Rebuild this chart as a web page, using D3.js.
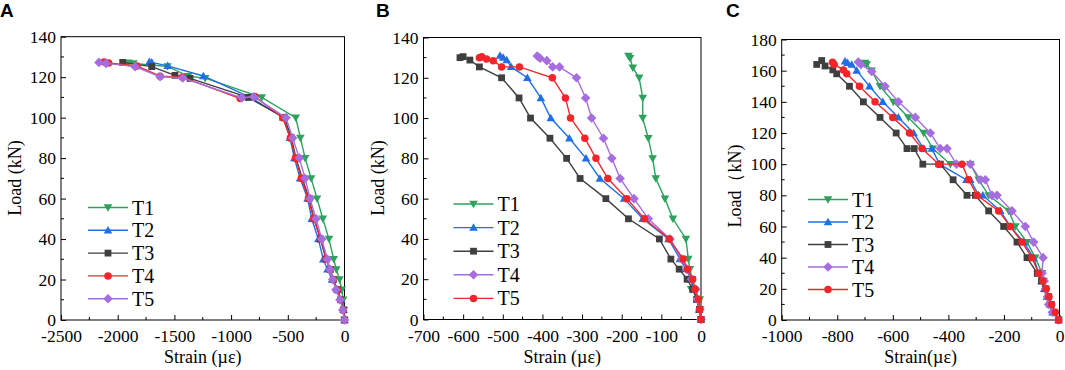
<!DOCTYPE html>
<html><head><meta charset="utf-8">
<script src="https://cdn.jsdelivr.net/npm/d3@7"></script>
<style>
body{margin:0;background:#fff}svg{display:block}
.serif{font-family:"Liberation Serif","Times New Roman",Times,serif}
.sans{font-family:"Liberation Sans",Arial,Helvetica,sans-serif}
</style>
</head><body>
<svg id="chart" width="1065" height="370"></svg>
<script>
// ---------- DATA: [strain (µε), load (kN)] ----------
const seriesNames = ["T1", "T2", "T3", "T4", "T5"];

// Panel A
const A_T1 = [[0,0],[-5,5],[-12,10],[-24,15],[-44,20],[-72,25],[-95,30],[-137,40],[-191,50],[-242,60],[-294,70],[-347,80],[-389,90],[-430,100],[-730,110],[-1229,119.5],[-1380,120.5],[-1560,125.3],[-1862,126.8],[-1906,127.1]];
const A_T2 = [[0,0],[-8,5],[-28,10],[-65,15],[-110,20],[-150,25],[-187,30],[-231,40],[-289,50],[-325,60],[-392,70],[-442,80],[-481,90],[-539,100],[-830,110],[-1245,120.6],[-1559,125.6],[-1700,127.3],[-1721,127.6]];
const A_T3 = [[0,0],[-10,5],[-35,10],[-62,15],[-98,20],[-125,25],[-163,30],[-212,40],[-268,50],[-312,60],[-372,70],[-428,80],[-468,90],[-530,100],[-850,110],[-1362,119.4],[-1495,120.9],[-1700,125.2],[-1956,127.3]];
const A_T4 = [[0,0],[-10,5],[-35,10],[-62,15],[-100,20],[-125,25],[-160,30],[-208,40],[-272,50],[-318,60],[-380,70],[-432,80],[-478,90],[-545,100],[-790,110.5],[-920,109.5],[-1430,120],[-1626,120.5],[-1830,125.5],[-2080,127],[-2120,127.5]];
const A_T5 = [[0,0],[-15,5],[-40,10],[-75,15],[-104,20],[-128,25],[-151,30],[-201,40],[-251,50],[-304,60],[-348,70],[-398,80],[-457,90],[-516,100],[-800,110.3],[-906,109.8],[-1426,119.6],[-1626,120.2],[-1847,125.2],[-2103,126.8],[-2165,127.3]];

// Panel B
const B_T1 = [[0,0],[-2,5],[-3,10],[-25,15],[-22,20],[-28,25],[-32,30],[-38,40],[-71,50],[-91,60],[-114,70],[-122,80],[-133,90],[-147,100],[-147,110],[-156,120],[-172,125],[-179,129.7],[-183,130.8]];
const B_T2 = [[0,0],[-5,5],[-10,10],[-18,15],[-25,20],[-38,25],[-53,30],[-82,40],[-147,50],[-194,60],[-255,70],[-290,80],[-332,90],[-379,100],[-404,110],[-438,120],[-479,125.4],[-490,128.8],[-499,130],[-507,131]];
const B_T3 = [[0,0],[-4,5],[-11,10],[-21,15],[-35,20],[-55,25],[-76,30],[-105,40],[-183,50],[-240,60],[-305,70],[-339,80],[-381,90],[-430,100],[-459,110],[-503,120],[-559,125.4],[-583,128.8],[-600,130.5],[-608,130]];
const B_T4 = [[0,0],[-3,5],[-9,10],[-13,15],[-24,20],[-36,25],[-49,30],[-78,40],[-133,50],[-169,60],[-204,70],[-225,80],[-246,90],[-276,100],[-291,110],[-314,120],[-357,125.4],[-374,125.4],[-389,128.5],[-406,129.7],[-413,130.8]];
const B_T5 = [[0,0],[-3,5],[-6,10],[-15,15],[-21,20],[-34,25],[-45,30],[-80,40],[-143,50],[-187,60],[-235,70],[-265,80],[-293,90],[-329,100],[-342,110],[-375,120],[-458,125.4],[-503,125.4],[-524,128.5],[-541,129.3],[-553,130.5],[-559,130]];

// Panel C
const C_T1 = [[-3,0],[-20,5],[-33,10],[-40,15],[-50,20],[-57,25],[-63,30],[-87,40],[-117,50],[-159,60],[-183,70],[-255,80],[-291,90],[-321,100],[-393,100],[-456,110],[-489,120],[-544,130],[-598,140],[-646,150],[-676,160],[-694,164],[-700,165]];
const C_T2 = [[-3,0],[-25,5],[-35,10],[-45,15],[-55,20],[-65,25],[-75,30],[-93,40],[-129,50],[-177,60],[-213,70],[-276,80],[-291,80],[-321,90],[-335,90],[-432,100],[-459,110],[-489,110],[-525,120],[-580,130],[-636,140],[-684,150],[-730,160],[-748,164],[-763,165],[-772,166]];
const C_T3 = [[-3,0],[-20,5],[-30,10],[-40,15],[-50,20],[-65,25],[-80,30],[-117,40],[-153,50],[-201,60],[-255,70],[-303,80],[-333,80],[-383,90],[-429,100],[-492,100],[-523,110],[-549,110],[-588,120],[-646,130],[-706,140],[-756,150],[-802,158],[-816,160.5],[-844,163],[-856,166.5],[-874,164]];
const C_T4 = [[-5,0],[-26,5],[-39,10],[-43,15],[-50,20],[-55,25],[-63,30],[-59,40],[-93,50],[-123,60],[-171,70],[-225,80],[-243,80],[-267,90],[-285,90],[-321,100],[-371,100],[-405,110],[-429,110],[-465,120],[-519,130],[-580,140],[-628,150],[-676,159.5],[-715,164],[-724,165.5]];
const C_T5 = [[-3,0],[-15,5],[-28,10],[-38,15],[-48,20],[-60,25],[-75,30],[-99,40],[-135,50],[-177,60],[-219,70],[-297,80],[-327,90],[-351,100],[-435,100],[-495,110],[-540,120],[-600,130],[-664,140],[-720,150],[-766,158],[-778,160.5],[-811,164],[-817,165.4]];

// Tick labels
const A_xTicks = [-2500, -2000, -1500, -1000, -500, 0];
const A_yTicks = [0, 20, 40, 60, 80, 100, 120, 140];
const B_xTicks = [-700, -600, -500, -400, -300, -200, -100, 0];
const B_yTicks = [0, 20, 40, 60, 80, 100, 120, 140];
const C_xTicks = [-1000, -800, -600, -400, -200, 0];
const C_yTicks = [0, 20, 40, 60, 80, 100, 120, 140, 160, 180];

// ---------- STYLE ----------
const COL = {green:"#2ca25c", blue:"#1f6fe5", black:"#3f3f3f", red:"#f0262b", purple:"#a66ddf"};
const styleA = [["green","down"],["blue","up"],["black","square"],["red","circle"],["purple","diamond"]];
const styleBC = [["green","down"],["blue","up"],["black","square"],["purple","diamond"],["red","circle"]];

const panels = [
  {letter:"A", lx:0, box:{l:61,r:344.5,t:36.7,b:320}, xDom:[-2500,0], yDom:[0,140],
   xTicks:A_xTicks, xMinor:250, yTicks:A_yTicks, yMinor:10,
   series:[A_T1,A_T2,A_T3,A_T4,A_T5], styles:styleA,
   xTitle:"Strain (µε)", yTitle:"Load (kN)", yTitleX:21, yTitleY:178,
   leg:{x:88, y:207.5, dy:22.8}},
  {letter:"B", lx:376, box:{l:423.5,r:701,t:37.5,b:319.5}, xDom:[-700,0], yDom:[0,140],
   xTicks:B_xTicks, xMinor:50, yTicks:B_yTicks, yMinor:10,
   series:[B_T1,B_T2,B_T3,B_T4,B_T5], styles:styleBC,
   xTitle:"Strain (µε)", yTitle:"Load (kN)", yTitleX:384, yTitleY:178,
   leg:{x:453.5, y:204, dy:23.6}},
  {letter:"C", lx:726, box:{l:781.7,r:1059.5,t:39.5,b:320}, xDom:[-1000,0], yDom:[0,180],
   xTicks:C_xTicks, xMinor:100, yTicks:C_yTicks, yMinor:10,
   series:[C_T1,C_T2,C_T3,C_T4,C_T5], styles:styleBC,
   xTitle:"Strain(µε)", yTitle:"Load（kN)", yTitleX:741, yTitleY:186,
   leg:{x:808, y:199.5, dy:22.5}}
];

function markerPath(type){
  switch(type){
    case "down": return "M-4.3,-3.2L4.3,-3.2L0,4.3Z";
    case "up": return "M-4.3,3.2L4.3,3.2L0,-4.3Z";
    case "square": return "M-3.4,-3.4H3.4V3.4H-3.4Z";
    case "circle": return d3.symbol(d3.symbolCircle, 44)();
    case "diamond": return "M0,-4.8L4.8,0L0,4.8L-4.8,0Z";
  }
}

const svg = d3.select("#chart");

panels.forEach(p => {
  const g = svg.append("g");
  const x = d3.scaleLinear().domain(p.xDom).range([p.box.l, p.box.r]);
  const y = d3.scaleLinear().domain(p.yDom).range([p.box.b, p.box.t]);

  // axes (ticks inward)
  const xAx = d3.axisBottom(x).tickValues(p.xTicks).tickSize(-5).tickPadding(9)
    .tickFormat(d => d < 0 ? "-" + Math.abs(d) : String(d));
  const yAx = d3.axisLeft(y).tickValues(p.yTicks).tickSize(-5).tickPadding(10).tickFormat(d3.format("d"));
  const gx = g.append("g").attr("transform", `translate(0,${p.box.b})`).call(xAx);
  const gy = g.append("g").attr("transform", `translate(${p.box.l},0)`).call(yAx);
  [gx, gy].forEach(a => {
    a.attr("font-family", null).attr("font-size", null);
    a.select(".domain").remove();
    a.selectAll("line").attr("stroke", "#000").attr("stroke-width", 1);
    a.selectAll("text").attr("class", "serif").style("font-size", "17.5px").attr("fill", "#000");
  });
  gx.selectAll(".tick text").attr("y", 10).attr("dy", "0.71em");
  gy.selectAll(".tick text").attr("x", -5);

  // minor ticks
  const xMin = d3.range(p.xDom[0], p.xDom[1] + 1e-9, p.xMinor).filter(v => !p.xTicks.includes(v));
  const yMin = d3.range(p.yDom[0], p.yDom[1] + 1e-9, p.yMinor).filter(v => !p.yTicks.includes(v));
  g.selectAll(null).data(xMin).enter().append("line")
    .attr("x1", d => x(d)).attr("x2", d => x(d)).attr("y1", p.box.b).attr("y2", p.box.b - 3)
    .attr("stroke", "#000");
  g.selectAll(null).data(yMin).enter().append("line")
    .attr("y1", d => y(d)).attr("y2", d => y(d)).attr("x1", p.box.l).attr("x2", p.box.l + 3)
    .attr("stroke", "#000");

  // frame
  g.append("rect").attr("x", p.box.l).attr("y", p.box.t)
    .attr("width", p.box.r - p.box.l).attr("height", p.box.b - p.box.t)
    .attr("fill", "none").attr("stroke", "#000").attr("stroke-width", 1);

  // series
  const line = d3.line().x(d => x(d[0])).y(d => y(d[1]));
  p.series.forEach((s, i) => {
    const [cName, mk] = p.styles[i];
    const c = COL[cName];
    g.append("path").datum(s).attr("d", line).attr("fill", "none")
      .attr("stroke", c).attr("stroke-width", 1.4);
    g.selectAll(null).data(s).enter().append("path")
      .attr("d", markerPath(mk))
      .attr("transform", d => `translate(${x(d[0])},${y(d[1])})`)
      .attr("fill", c);
  });

  // legend
  seriesNames.forEach((n, i) => {
    const [cName, mk] = p.styles[i];
    const c = COL[cName];
    const yy = p.leg.y + i * p.leg.dy;
    g.append("line").attr("x1", p.leg.x).attr("x2", p.leg.x + 40)
      .attr("y1", yy).attr("y2", yy).attr("stroke", c).attr("stroke-width", 1.4);
    g.append("path").attr("d", markerPath(mk))
      .attr("transform", `translate(${p.leg.x + 20},${yy})`).attr("fill", c);
    g.append("text").attr("class", "serif").attr("x", p.leg.x + 44).attr("y", yy + 7)
      .style("font-size", "20px").attr("fill", "#000").text(n);
  });

  // titles
  g.append("text").attr("class", "serif").attr("x", (p.box.l + p.box.r) / 2).attr("y", 363)
    .attr("text-anchor", "middle").style("font-size", "18px")
    .attr("fill", "#000").text(p.xTitle);
  g.append("text").attr("class", "serif").attr("transform", `translate(${p.yTitleX},${p.yTitleY}) rotate(-90)`)
    .attr("text-anchor", "middle").style("font-size", "18px")
    .attr("fill", "#000").text(p.yTitle);

  // panel letter
  g.append("text").attr("class", "sans").attr("x", p.lx).attr("y", 17)
    .style("font-weight", "bold").style("font-size", "19px").attr("fill", "#000").text(p.letter);
});
</script>
</body></html>
